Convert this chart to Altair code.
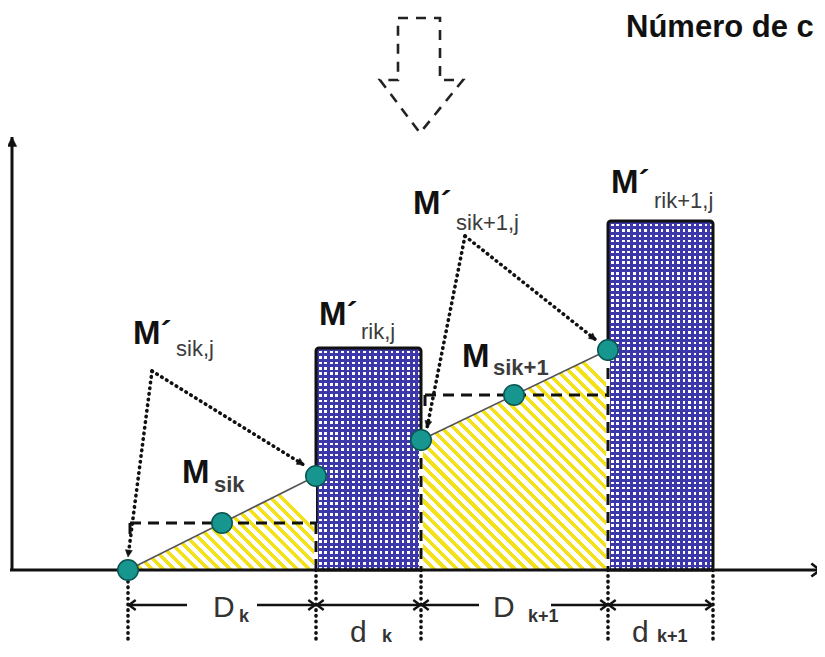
import math
import altair as alt
import pandas as pd

# ---------------- data (diagram units: x along the time axis, y = quantity; origin = axis crossing)
pt_x = [116, 210, 304, 409, 502, 596]
pt_y = [0, 47, 94, 130, 175, 220]

ramp_x0 = [116, 409]
ramp_y0 = [0, 130]
ramp_x1 = [304, 596]
ramp_y1 = [94, 220]

bar_x0 = [304, 596]
bar_x1 = [409, 701]
bar_top = [222, 349]

mean_y = [47, 175]
mean_x0 = [118, 413]
mean_x1 = [304, 596]

bounds = [116, 304, 409, 596, 701]
dim_gaps = [(175, 245), None, (467, 539), None]
dim_level = -35
drop_level = -72

# dotted pointer arrows: apex -> targets
ptr_apex_x = [140, 140, 453, 453]
ptr_apex_y = [199, 199, 334, 334]
ptr_end_x = [116, 292, 415, 584]
ptr_end_y = [13, 105, 142, 230]

# dashed outline of the big arrow at the top
big_arrow_x = [386, 428, 428, 451, 408, 368, 386, 386]
big_arrow_y = [552, 552, 490, 490, 437, 490, 490, 552]

# labels
big_text = ["M´", "M", "M´", "M", "M´", "M´"]
big_x = [121, 170, 307, 450, 401, 599]
big_y = [226, 87, 245, 203, 356, 377]
sub_text = ["sik,j", "sik", "rik,j", "sik+1", "sik+1,j", "rik+1,j"]
sub_x = [164, 202, 349, 481, 444, 642]
sub_y = [214, 78, 231, 195, 340, 362]
sub_bold = [False, True, False, True, False, False]

dim_text = ["D", "d", "D", "d"]
dim_x = [201, 338, 481, 620]
dim_y = [-47, -72, -47, -72]
dsub_text = ["k", "k", "k+1", "k+1"]
dsub_x = [227, 370, 516, 645]
dsub_y = [-52, -72, -52, -72]

title_text = "Número de c"
title_x = 614
title_y = 533

# ---------------- helpers
XS = alt.Scale(domain=[-4, 805], nice=False, zero=False)
YS = alt.Scale(domain=[-79, 562], nice=False, zero=False)
FONT = "Liberation Sans"


def X(f="x"):
    return alt.X(f + ":Q", scale=XS, axis=None)


def Y(f="y"):
    return alt.Y(f + ":Q", scale=YS, axis=None)


def stripes(on, off, n, frac):
    stops = []
    for i in range(n):
        a, b, c = i / n, (i + frac) / n, (i + 1) / n
        stops += [
            alt.GradientStop(color=on, offset=a),
            alt.GradientStop(color=on, offset=b),
            alt.GradientStop(color=off, offset=b),
            alt.GradientStop(color=off, offset=min(c, 1.0)),
        ]
    return stops


def diag_gradient(w, h, period, frac, on, off):
    m = max(w, h)
    span = (w * w + h * h) / (m * math.sqrt(2))
    n = max(1, round(span / period))
    return alt.Gradient(gradient="linear", stops=stripes(on, off, n, frac),
                        x1=0, y1=1, x2=w / m, y2=1 - h / m)


def segs(rows):
    return pd.DataFrame(rows, columns=["x", "y", "x2", "y2"])


def rule_layer(df, **kw):
    return alt.Chart(df).mark_rule(**kw).encode(
        x=X(), y=Y(), x2="x2:Q", y2="y2:Q")


layers = []

# ---------------- blue hatched bars
BLUE = "#3d38aa"
for i in range(len(bar_x0)):
    w = bar_x1[i] - bar_x0[i]
    h = bar_top[i]
    bdf = pd.DataFrame({"x0": [bar_x0[i]], "x1": [bar_x1[i]], "top": [bar_top[i]], "base": [0]})
    hgrad = alt.Gradient(gradient="linear", stops=stripes(BLUE, "white", round(h / 5.4), 0.52),
                         x1=0, y1=0, x2=0, y2=1)
    vgrad = alt.Gradient(gradient="linear", stops=stripes(BLUE, "rgba(255,255,255,0)", round(w / 5.4), 0.52),
                         x1=0, y1=0, x2=1, y2=0)
    for g in (hgrad, vgrad):
        layers.append(alt.Chart(bdf).mark_rect(fill=g, strokeWidth=0).encode(
            x=X("x0"), x2="x1:Q", y=Y("top"), y2="base:Q"))
bars_df = pd.DataFrame({"x0": bar_x0, "x1": bar_x1, "top": bar_top, "base": [0, 0]})
layers.append(alt.Chart(bars_df).mark_rect(fillOpacity=0, stroke="#111", strokeWidth=3,
                                           cornerRadius=3).encode(
    x=X("x0"), x2="x1:Q", y=Y("top"), y2="base:Q"))

# ---------------- yellow hatched ramps
for i in range(len(ramp_x0)):
    adf = pd.DataFrame({"x": [ramp_x0[i], ramp_x1[i]], "y": [ramp_y0[i], ramp_y1[i]], "b": [0, 0]})
    w = ramp_x1[i] - ramp_x0[i]
    h = max(ramp_y0[i], ramp_y1[i])
    g = diag_gradient(w, h, 8.0, 0.45, "#f3e21a", "white")
    layers.append(alt.Chart(adf).mark_area(fill=g, strokeWidth=0).encode(
        x=X(), y=Y(), y2="b:Q"))

# ramp lines
layers.append(rule_layer(segs([(ramp_x0[i], ramp_y0[i], ramp_x1[i], ramp_y1[i]) for i in range(2)]),
                         color="#555", strokeWidth=1.6))

# ---------------- dashed lines
vert = [(304, mean_y[0], 304, 0), (409, pt_y[3], 409, 0), (596, pt_y[5], 596, 0)]
layers.append(rule_layer(segs(vert), color="white", strokeWidth=4))
dashed = list(vert)
for i in range(2):
    dashed.append((mean_x0[i], mean_y[i], mean_x1[i], mean_y[i]))
    dashed.append((mean_x0[i], mean_y[i], mean_x0[i], mean_y[i] - 11))
layers.append(rule_layer(segs(dashed), color="#111", strokeWidth=3, strokeDash=[11, 7]))

# big dashed arrow at top
ba = pd.DataFrame({"x": big_arrow_x, "y": big_arrow_y, "o": list(range(len(big_arrow_x)))})
layers.append(alt.Chart(ba).mark_line(color="#222", strokeWidth=2.6, strokeDash=[10, 8]).encode(
    x=X(), y=Y(), order="o:Q"))

# ---------------- dotted lines
dotted = [(b, 0, b, drop_level) for b in bounds]
dotted += [(ptr_apex_x[i], ptr_apex_y[i], ptr_end_x[i], ptr_end_y[i]) for i in range(4)]
layers.append(rule_layer(segs(dotted), color="#111", strokeWidth=3.6,
                         strokeDash=[0.5, 5.2], strokeCap="round"))

# ---------------- axes and dimension lines
layers.append(rule_layer(segs([(-2, 0, 808, 0), (0, 0, 0, 433)]), color="#111", strokeWidth=3))
dims = []
heads = []
for i in range(4):
    a, b = bounds[i], bounds[i + 1]
    if dim_gaps[i]:
        dims += [(a, dim_level, dim_gaps[i][0], dim_level), (dim_gaps[i][1], dim_level, b, dim_level)]
    else:
        dims.append((a, dim_level, b, dim_level))
    heads += [(a + 1, dim_level, 180), (b - 1, dim_level, 0)]
layers.append(rule_layer(segs(dims), color="#111", strokeWidth=2.6))

CHEV = "M-1,-0.75L0,0L-1,0.75"
hdf = pd.DataFrame(heads, columns=["x", "y", "a"])
layers.append(alt.Chart(hdf).mark_point(shape=CHEV, filled=False, size=180, stroke="#111",
                                        strokeWidth=2.4, opacity=1).encode(
    x=X(), y=Y(), angle=alt.Angle("a:Q", scale=None)))
layers.append(alt.Chart(pd.DataFrame({"x": [808], "y": [0], "a": [0]})).mark_point(
    shape=CHEV, filled=False, size=300, stroke="#111", strokeWidth=2.6, opacity=1).encode(
    x=X(), y=Y(), angle=alt.Angle("a:Q", scale=None)))

TRI = "M0,0L-0.9,1.8L0.9,1.8Z"
tips = [(0, 433, 0, 110)]
for i in range(4):
    dx = ptr_end_x[i] - ptr_apex_x[i]
    dy = ptr_end_y[i] - ptr_apex_y[i]
    ang = math.degrees(math.atan2(dx, dy)) % 360
    tips.append((ptr_end_x[i], ptr_end_y[i], ang, 60))
tdf = pd.DataFrame(tips, columns=["x", "y", "a", "s"])
layers.append(alt.Chart(tdf).mark_point(shape=TRI, filled=True, fill="#111", stroke="#111",
                                        strokeWidth=0.5, opacity=1).encode(
    x=X(), y=Y(), angle=alt.Angle("a:Q", scale=None), size=alt.Size("s:Q", scale=None)))

# ---------------- teal points
pdf = pd.DataFrame({"x": pt_x, "y": pt_y})
layers.append(alt.Chart(pdf).mark_point(shape="circle", filled=True, size=420, fill="#17958f",
                                        stroke="#0b5450", strokeWidth=1.5, opacity=1).encode(
    x=X(), y=Y()))

# ---------------- texts
bdf = pd.DataFrame({"x": big_x, "y": big_y, "t": big_text})
layers.append(alt.Chart(bdf).mark_text(align="left", baseline="alphabetic", font=FONT,
                                       fontWeight="bold", fontSize=33, color="#111").encode(
    x=X(), y=Y(), text="t:N"))
sdf = pd.DataFrame({"x": sub_x, "y": sub_y, "t": sub_text, "b": sub_bold})
layers.append(alt.Chart(sdf[~sdf.b]).mark_text(align="left", baseline="alphabetic", font=FONT,
                                               fontSize=22, color="#3c3c3c").encode(
    x=X(), y=Y(), text="t:N"))
layers.append(alt.Chart(sdf[sdf.b]).mark_text(align="left", baseline="alphabetic", font=FONT,
                                              fontWeight="bold", fontSize=22, color="#3c3c3c").encode(
    x=X(), y=Y(), text="t:N"))
ddf = pd.DataFrame({"x": dim_x, "y": dim_y, "t": dim_text})
layers.append(alt.Chart(ddf).mark_text(align="left", baseline="alphabetic", font=FONT,
                                       fontSize=30, color="#333").encode(
    x=X(), y=Y(), text="t:N"))
dsdf = pd.DataFrame({"x": dsub_x, "y": dsub_y, "t": dsub_text})
layers.append(alt.Chart(dsdf).mark_text(align="left", baseline="alphabetic", font=FONT,
                                        fontWeight="bold", fontSize=18, color="#333").encode(
    x=X(), y=Y(), text="t:N"))
tdf2 = pd.DataFrame({"x": [title_x], "y": [title_y], "t": [title_text]})
layers.append(alt.Chart(tdf2).mark_text(align="left", baseline="alphabetic", font=FONT,
                                        fontWeight="bold", fontSize=31, color="#111").encode(
    x=X(), y=Y(), text="t:N"))

chart = alt.layer(*layers).properties(
    width=809, height=641, padding=0, autosize=alt.AutoSizeParams(type="none"),
    background="white"
).configure_view(stroke=None)

chart.save("out.html", embed_options={"renderer": "svg", "actions": False})
